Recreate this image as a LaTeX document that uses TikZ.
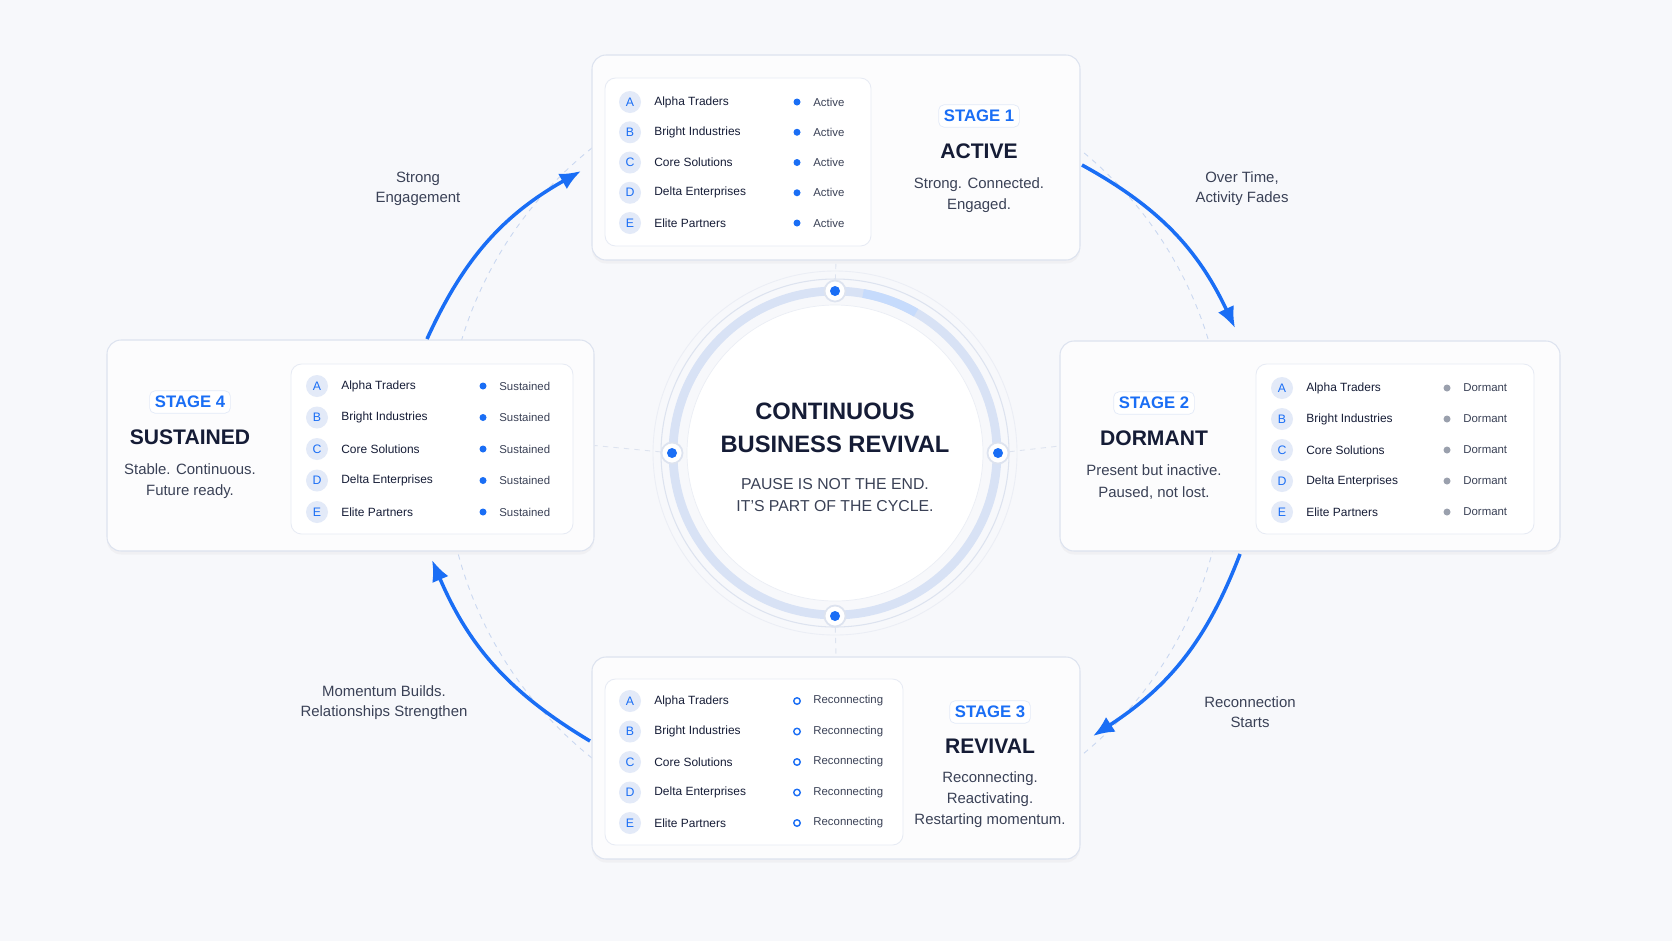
\documentclass[tikz,border=0pt]{standalone}
\usepackage{fontspec}
\setmainfont{Liberation Sans}
\usetikzlibrary{arrows.meta,positioning,shadows}
\definecolor{bg}{HTML}{F7F8FB}
\definecolor{navy}{HTML}{151C36}
\definecolor{ink}{HTML}{3A4156}
\definecolor{brand}{HTML}{1A6EF5}
\definecolor{edge}{HTML}{DDE3EF}
\definecolor{pale}{HTML}{E3EAF8}
\definecolor{ringc}{HTML}{D8E2F5}
\definecolor{idle}{HTML}{9AA0AD}
\tikzset{
  card/.style={draw=edge, fill=white!60!bg, rounded corners=8pt, line width=0.6pt,
    drop shadow={opacity=0.06, shadow xshift=0pt, shadow yshift=-2pt}},
  listbox/.style={draw=edge!70, fill=white, rounded corners=6pt, line width=0.5pt},
  letter/.style={circle, fill=pale, minimum size=0.44cm, inner sep=0pt, text=brand, font=\fontsize{7}{8}\selectfont},
  client/.style={anchor=west, inner sep=0pt, text=navy, font=\fontsize{6.8}{8}\selectfont},
  status/.style={anchor=west, inner sep=0pt, text=ink, font=\fontsize{6.5}{8}\selectfont},
  on/.style={circle, fill=brand, minimum size=0.14cm, inner sep=0pt},
  off/.style={circle, fill=idle, minimum size=0.14cm, inner sep=0pt},
  ring/.style={circle, draw=brand, line width=0.8pt, minimum size=0.13cm, inner sep=0pt},
  badge/.style={draw=pale, fill=white, rounded corners=3pt, text=brand, inner sep=3pt,
    font=\fontsize{9.5}{11}\bfseries\selectfont},
  title/.style={text=navy, inner sep=0pt, font=\fontsize{12}{14}\bfseries\selectfont},
  desc/.style={text=ink, align=center, inner sep=0pt, font=\fontsize{8.5}{12}\selectfont},
  note/.style={text=ink, align=center, inner sep=0pt, font=\fontsize{8.5}{11.5}\selectfont},
  flow/.style={draw=brand, line width=2pt, -{Latex[length=12pt,width=10pt]}},
  hub/.style={circle, fill=white, draw=edge, line width=1pt, minimum size=0.42cm, inner sep=0pt},
  link/.style={draw=edge, dashed, line width=0.5pt}
}
% five clients per stage
\newcommand\clientrows[7]{%
  \foreach \l/\n [count=\i] in {A/Alpha Traders,B/Bright Industries,C/Core Solutions,D/Delta Enterprises,E/Elite Partners}{
    \pgfmathsetmacro\yy{#2+(\i-1)*#3}
    \node[letter] (#1l\i) at (#4,\yy) {\l};
    \node[client] (#1n\i) at (#4+24,\yy) {\n};
    \node[#6] (#1d\i) at (#5,\yy) {};
    \node[status] (#1s\i) at (#5+16,\yy) {#7};
  }}
\begin{document}
\begin{tikzpicture}[x=0.02cm,y=-0.02cm]
  \fill[bg] (0,0) rectangle (1672,941);
  % cycle guide
  \draw[link, draw=edge!90!brand] (835,453) circle (390);
  \coordinate (core) at (835,453);
  \draw[edge!60, line width=0.5pt] (core) circle (182);
  \draw[edge, line width=0.6pt] (core) circle (174);
  \draw[ringc, line width=5pt] (core) circle (162);
  \draw[brand!25, line width=5pt] (core) ++(-60:162) arc (-60:-80:162);
  \node[circle, fill=white, draw=edge!60, minimum size={2*148*0.02cm}] (disc) at (core) {};
  % stage cards
  \node[card, minimum width={488*0.02cm}, minimum height={205*0.02cm}] (c1) at (836,157.5) {};
  \node[listbox, minimum width={266*0.02cm}, minimum height={168*0.02cm}] (b1) at (738,162) {};
  \node[card, minimum width={500*0.02cm}, minimum height={210*0.02cm}] (c2) at (1310,446) {};
  \node[listbox, minimum width={278*0.02cm}, minimum height={170*0.02cm}] (b2) at (1395,449) {};
  \node[card, minimum width={488*0.02cm}, minimum height={202*0.02cm}] (c3) at (836,758) {};
  \node[listbox, minimum width={298*0.02cm}, minimum height={166*0.02cm}] (b3) at (754,762) {};
  \node[card, minimum width={487*0.02cm}, minimum height={211*0.02cm}] (c4) at (350.5,445.5) {};
  \node[listbox, minimum width={282*0.02cm}, minimum height={170*0.02cm}] (b4) at (432,449) {};
  \clientrows{a}{102}{30.25}{630}{797}{on}{Active}
  \clientrows{m}{388}{31}{1282}{1447}{off}{Dormant}
  \clientrows{r}{701}{30.5}{630}{797}{ring}{Reconnecting}
  \clientrows{s}{386}{31.5}{317}{483}{on}{Sustained}
  % stage headings
  \node[badge] (g1) at (979,116) {STAGE 1};
  \node[title] (t1) at (979,151) {ACTIVE};
  \node[desc] (d1) at (979,195) {Strong. Connected.\\Engaged.};
  \node[badge] (g2) at (1154,403) {STAGE 2};
  \node[title] (t2) at (1154,438) {DORMANT};
  \node[desc] (d2) at (1154,482) {Present but inactive.\\Paused, not lost.};
  \node[badge] (g3) at (990,712) {STAGE 3};
  \node[title] (t3) at (990,746) {REVIVAL};
  \node[desc] (d3) at (990,800) {Reconnecting.\\Reactivating.\\Restarting momentum.};
  \node[badge] (g4) at (190,402) {STAGE 4};
  \node[title] (t4) at (190,437) {SUSTAINED};
  \node[desc] (d4) at (190,481) {Stable. Continuous.\\Future ready.};
  % centre
  \node[text=navy, align=center, inner sep=0pt, font=\fontsize{13.5}{19}\bfseries\selectfont] (head) at (835,428) {CONTINUOUS\\BUSINESS REVIVAL};
  \node[text=ink, align=center, inner sep=0pt, font=\fontsize{9}{12.5}\selectfont] (sub) at (835,495) {PAUSE IS NOT THE END.\\IT’S PART OF THE CYCLE.};
  \foreach \p/\x/\y in {n/835/291,e/998/453,s/835/616,w/672/453}{
    \node[hub] (h\p) at (\x,\y) {};
    \fill[brand] (h\p) circle (5);
  }
  \draw[link] (hn) -- (c1.south);
  \draw[link] (he) -- (c2.west);
  \draw[link] (hs) -- (c3.north);
  \draw[link] (hw) -- (c4.east);
  % flow arrows
  \coordinate (f1a) at (427,339); \coordinate (f1b) at (581,171);
  \coordinate (f2a) at (1082,165); \coordinate (f2b) at (1235,328);
  \coordinate (f3a) at (1240,554); \coordinate (f3b) at (1093,736);
  \coordinate (f4a) at (590,741); \coordinate (f4b) at (432,560);
  \draw[flow] (f1a) to[bend left=18] (f1b);
  \draw[flow] (f2a) to[bend left=18] (f2b);
  \draw[flow] (f3a) to[bend left=18] (f3b);
  \draw[flow] (f4a) to[bend left=18] (f4b);
  \node[note] (n1) at (418,189) {Strong\\Engagement};
  \node[note] (n2) at (1242,189) {Over Time,\\Activity Fades};
  \node[note] (n3) at (1250,712) {Reconnection\\Starts};
  \node[note] (n4) at (384,703) {Momentum Builds.\\Relationships Strengthen};
\end{tikzpicture}
\end{document}
